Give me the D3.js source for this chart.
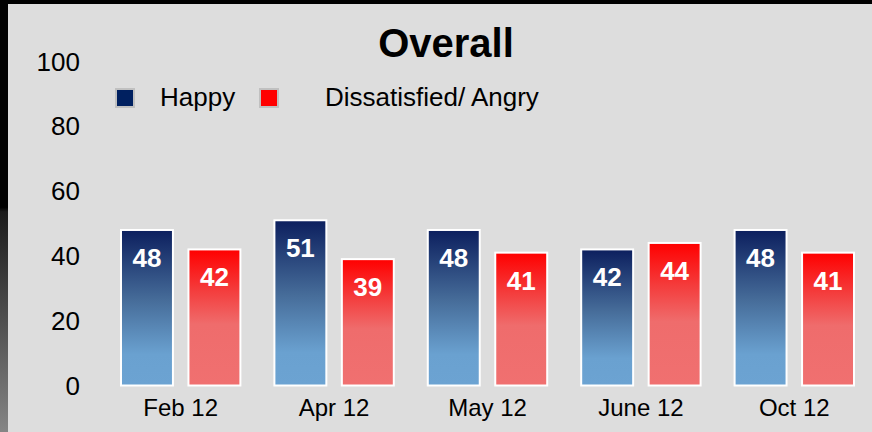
<!DOCTYPE html>
<html>
<head>
<meta charset="utf-8">
<script src="https://cdn.jsdelivr.net/npm/d3@7"></script>
<style>
  html, body { margin: 0; padding: 0; background: #dddddd; }
  svg { display: block; font-family: "Liberation Sans", Arial, sans-serif; }
</style>
</head>
<body>
<div class="chart"></div>
<script>
var categories = ["Feb 12", "Apr 12", "May 12", "June 12", "Oct 12"];
var happy = [48, 51, 48, 42, 48];
var angry = [42, 39, 41, 44, 41];
var seriesNames = ["Happy", "Dissatisfied/ Angry"];
var yTicks = [0, 20, 40, 60, 80, 100];

var width = 872, height = 432;

var svg = d3.select(".chart").append("svg")
  .attr("width", width)
  .attr("height", height);

var defs = svg.append("defs");

// frame gradient on the left edge
var edge = defs.append("linearGradient")
  .attr("id", "edge").attr("x1", 0).attr("y1", 0).attr("x2", 0).attr("y2", 1);
edge.append("stop").attr("offset", "0%").attr("stop-color", "#000");
edge.append("stop").attr("offset", "48%").attr("stop-color", "#000");
edge.append("stop").attr("offset", "49%").attr("stop-color", "#1a1a1a");
edge.append("stop").attr("offset", "100%").attr("stop-color", "#858585");

var gHappy = defs.append("linearGradient")
  .attr("id", "gHappy").attr("x1", 0).attr("y1", 0).attr("x2", 0).attr("y2", 1);
gHappy.append("stop").attr("offset", "0%").attr("stop-color", "#0c1f5e");
gHappy.append("stop").attr("offset", "45%").attr("stop-color", "#466c99");
gHappy.append("stop").attr("offset", "80%").attr("stop-color", "#6aa1d0");
gHappy.append("stop").attr("offset", "100%").attr("stop-color", "#6ca3d2");

var gAngry = defs.append("linearGradient")
  .attr("id", "gAngry").attr("x1", 0).attr("y1", 0).attr("x2", 0).attr("y2", 1);
gAngry.append("stop").attr("offset", "0%").attr("stop-color", "#ff0000");
gAngry.append("stop").attr("offset", "30%").attr("stop-color", "#f43c3c");
gAngry.append("stop").attr("offset", "55%").attr("stop-color", "#ef6c6c");
gAngry.append("stop").attr("offset", "100%").attr("stop-color", "#f07070");

svg.append("rect").attr("width", width).attr("height", height).attr("fill", "#dddddd");
svg.append("rect").attr("width", width).attr("height", 4).attr("fill", "#000");
svg.append("rect").attr("width", 8).attr("height", height).attr("fill", "url(#edge)");

// scales
var x0 = d3.scaleBand()
  .domain(categories)
  .range([104, 871])
  .paddingInner(0)
  .paddingOuter(0);

var x1 = d3.scaleBand()
  .domain([0, 1])
  .range([17, x0.bandwidth() - 17])
  .paddingInner(0.23);

var y = d3.scaleLinear().domain([0, 100]).range([385.5, 61.5]);

// y axis labels
svg.append("g").selectAll("text").data(yTicks).enter().append("text")
  .attr("x", 80)
  .attr("y", function(d){ return y(d) + 9; })
  .attr("text-anchor", "end")
  .attr("font-size", 26)
  .attr("fill", "#000")
  .text(function(d){ return d; });

// bars
var groups = svg.append("g").selectAll("g.grp").data(categories).enter().append("g")
  .attr("class", "grp")
  .attr("transform", function(d){ return "translate(" + x0(d) + ",0)"; });

groups.each(function(cat, i){
  var g = d3.select(this);
  var vals = [happy[i], angry[i]];
  vals.forEach(function(v, s){
    g.append("rect")
      .attr("x", x1(s))
      .attr("y", y(v))
      .attr("width", x1.bandwidth())
      .attr("height", y(0) - y(v))
      .attr("fill", s == 0 ? "url(#gHappy)" : "url(#gAngry)")
      .attr("stroke", "#fff")
      .attr("stroke-width", 2);

    g.append("text")
      .attr("x", x1(s) + x1.bandwidth() / 2)
      .attr("y", y(v) + 37)
      .attr("text-anchor", "middle")
      .attr("font-size", 26)
      .attr("font-weight", "bold")
      .attr("fill", "#fff")
      .text(v);
  });
});

// category labels
svg.append("g").selectAll("text").data(categories).enter().append("text")
  .attr("x", function(d){ return x0(d) + x0.bandwidth() / 2; })
  .attr("y", 416)
  .attr("text-anchor", "middle")
  .attr("font-size", 24)
  .attr("fill", "#000")
  .text(function(d){ return d; });

// title
svg.append("text")
  .attr("x", 446)
  .attr("y", 57)
  .attr("text-anchor", "middle")
  .attr("font-size", 40)
  .attr("font-weight", "bold")
  .attr("fill", "#000")
  .text("Overall");

// legend
var legend = [
  { name: seriesNames[0], color: "#002060", box: 116, text: 160 },
  { name: seriesNames[1], color: "#ff0000", box: 260, text: 325 }
];
legend.forEach(function(l){
  svg.append("rect")
    .attr("x", l.box).attr("y", 89)
    .attr("width", 18).attr("height", 18)
    .attr("fill", l.color)
    .attr("stroke", "#c0c0c0")
    .attr("stroke-width", 2);
  svg.append("text")
    .attr("x", l.text).attr("y", 106)
    .attr("font-size", 26)
    .attr("fill", "#000")
    .text(l.name);
});
</script>
</body>
</html>
